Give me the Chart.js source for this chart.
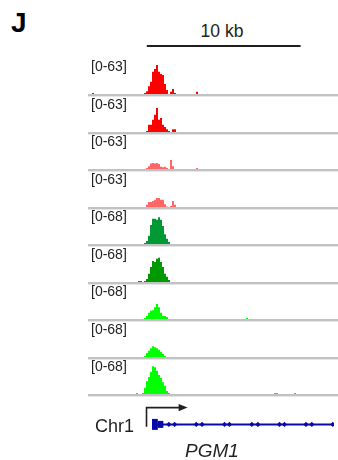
<!DOCTYPE html>
<html>
<head>
<meta charset="utf-8">
<script src="https://cdn.jsdelivr.net/npm/chart.js@4.4.1/dist/chart.umd.min.js"></script>
<style>
  html, body { margin: 0; padding: 0; background: #fff; }
  body { width: 338px; height: 460px; position: relative; overflow: hidden;
         font-family: "Liberation Sans", Arial, sans-serif; color: #231f20; }
  canvas, .txt { position: absolute; }
  .txt { white-space: nowrap; }
  .range { font-size: 14px; line-height: 14px; left: 91px; color: #222; }
</style>
</head>
<body>
<div class="txt" style="left:11px; top:9px; font-size:28px; line-height:28px; font-weight:bold; color:#000;">J</div>
<div class="txt" style="left:172px; top:22.5px; width:100px; text-align:center; font-size:17.5px; line-height:17.5px;">10 kb</div>
<canvas id="ruler" width="250" height="12" style="left:88px; top:40px;"></canvas>
<div id="tracks"></div>
<canvas id="gene" width="250" height="40" style="left:88px; top:398px;"></canvas>
<div class="txt" style="left:95px; top:417px; font-size:18px; line-height:18px;">Chr1</div>
<div class="txt" style="left:185px; top:440.5px; font-size:19px; line-height:19px; font-style:italic;">PGM1</div>

<script>
// Genomic window split into fixed-size bins (kb)
const BIN_KB = 0.13;
const N_BINS = 125;
const WINDOW_KB = BIN_KB * N_BINS;
const binKb = Array.from({ length: N_BINS }, (_, i) => (i * BIN_KB).toFixed(2));

// Per-track data range and colour
const trackMax = [63, 63, 63, 63, 68, 68, 68, 68, 68];
const trackColors = ['#ff0000', '#ff0000', '#ff6666', '#ff6666',
                     '#009933', '#009900', '#00ff00', '#00ff00', '#00ff00'];

// Coverage around the promoter peak: first bin index, then one value per bin
const peakFrom = [28, 29, 29, 29, 28, 25, 28, 28, 27];
const peaks = [
  [2, 5, 14, 22, 40, 45, 52, 40, 36, 34, 18, 7, 0, 4, 9, 2],
  [2, 13, 13, 22, 31, 43, 22, 25, 13, 9, 5, 2, 0, 5, 5],
  [2, 5, 10, 11, 10, 11, 9, 4, 3, 4, 2, 0, 16, 5],
  [4, 9, 9, 11, 13, 16, 16, 13, 13, 5, 1, 0, 2, 11, 4],
  [2, 6, 16, 37, 49, 49, 47, 52, 47, 35, 19, 10, 4],
  [2, 2, 0, 2, 6, 16, 29, 41, 39, 45, 47, 39, 29, 16, 10, 4],
  [2, 6, 12, 16, 17, 23, 29, 23, 12, 6, 6, 4],
  [2, 8, 12, 17, 21, 19, 17, 14, 10, 6, 2],
  [2, 12, 25, 33, 43, 54, 52, 45, 37, 31, 23, 16, 6, 2]
];
// Isolated low-coverage bins: [bin index, value]
const blips = [
  [[2, 2], [54, 4]],
  [],
  [[54, 2]],
  [],
  [],
  [],
  [[79, 2]],
  [],
  [[24, 2], [93, 2], [94, 2], [103, 2]]
];

// Gene model (kb within the window)
const scaleBarKb = [3.82, 13.82];
const tssKb = 3.66;
const tssArrowEndKb = 6.42;
const geneBodyKb = [4.03, WINDOW_KB];
const geneCodingKb = [4.03, 4.42];
const geneUtrKb = [4.42, 4.79];
const strandMarkKb = [5.16, 5.55, 7.0, 7.39, 8.9, 9.23, 10.73, 11.14,
                      12.59, 12.92, 14.37, 14.76, 16.17];

const TRACK_TOP = 59;
const TRACK_PITCH = 37.5;
const DATA_H = 35;
const GENE_BLUE = '#0a0aa8';

function series(i) {
  const s = new Array(N_BINS).fill(null);
  peaks[i].forEach((v, k) => { s[peakFrom[i] + k] = v || null; });
  blips[i].forEach(([b, v]) => { s[b] = v; });
  return s;
}

// Grey divider under each track
const baseline = {
  id: 'baseline',
  afterDraw(chart) {
    const { ctx, chartArea: a } = chart;
    ctx.save();
    ctx.fillStyle = '#c2c2c2';
    ctx.fillRect(a.left, a.bottom, a.right - a.left, 2);
    ctx.fillStyle = '#e6e6e6';
    ctx.fillRect(a.left, a.bottom + 2, a.right - a.left, 1);
    ctx.restore();
  }
};

const common = {
  responsive: false,
  animation: false,
  events: [],
  plugins: { legend: { display: false }, tooltip: { enabled: false } }
};

const holder = document.getElementById('tracks');
trackMax.forEach((max, i) => {
  const top = Math.round(TRACK_TOP + TRACK_PITCH * i);
  const cv = document.createElement('canvas');
  cv.width = 250; cv.height = DATA_H + 3;
  cv.style.left = '88px'; cv.style.top = top + 'px';
  holder.appendChild(cv);

  const lab = document.createElement('div');
  lab.className = 'txt range';
  lab.style.top = (top + DATA_H - 35) + 'px';
  lab.textContent = `[0-${max}]`;
  holder.appendChild(lab);

  new Chart(cv, {
    type: 'bar',
    data: {
      labels: binKb,
      datasets: [{
        data: series(i),
        backgroundColor: trackColors[i],
        borderWidth: 0,
        inflateAmount: 0,
        barPercentage: 1,
        categoryPercentage: 1
      }]
    },
    options: {
      ...common,
      layout: { padding: { left: 0, right: 0, top: 0, bottom: 3 } },
      scales: {
        x: { display: false },
        y: { display: false, min: 0, max: max }
      }
    },
    plugins: [baseline]
  });
});

const kbAxis = { type: 'linear', display: false, min: 0, max: WINDOW_KB };

// 10 kb scale bar
new Chart(document.getElementById('ruler'), {
  type: 'line',
  data: {
    datasets: [{
      data: scaleBarKb.map(x => ({ x, y: 0 })),
      borderColor: '#231f20', borderWidth: 2, pointRadius: 0,
      borderCapStyle: 'butt'
    }]
  },
  options: {
    ...common,
    layout: { padding: 0 },
    scales: { x: kbAxis, y: { display: false, min: -1, max: 1 } }
  }
});

// TSS bent arrow
const tssArrow = {
  id: 'tssArrow',
  afterDatasetsDraw(chart) {
    const { ctx, scales: { x, y } } = chart;
    const x0 = x.getPixelForValue(tssKb);
    const x1 = x.getPixelForValue(tssArrowEndKb);
    const yTop = y.getPixelForValue(21);
    const yBot = y.getPixelForValue(-3);
    ctx.save();
    ctx.strokeStyle = '#231f20';
    ctx.fillStyle = '#231f20';
    ctx.lineWidth = 1.6;
    ctx.beginPath();
    ctx.moveTo(x0, yBot);
    ctx.lineTo(x0, yTop);
    ctx.lineTo(x1 - 6, yTop);
    ctx.stroke();
    ctx.beginPath();
    ctx.moveTo(x1, yTop);
    ctx.lineTo(x1 - 9, yTop - 3.6);
    ctx.lineTo(x1 - 9, yTop + 3.6);
    ctx.closePath();
    ctx.fill();
    ctx.restore();
  }
};

const segment = (pair, w) => ({
  type: 'line',
  data: pair.map(x => ({ x, y: 0 })),
  borderColor: GENE_BLUE, borderWidth: w, pointRadius: 0,
  borderCapStyle: 'butt'
});

new Chart(document.getElementById('gene'), {
  type: 'line',
  data: {
    datasets: [
      segment(geneBodyKb, 2),
      segment(geneCodingKb, 11),
      segment(geneUtrKb, 7),
      {
        type: 'scatter',
        data: strandMarkKb.map(x => ({ x, y: 0 })),
        pointStyle: 'rectRot', pointRadius: 2.6,
        backgroundColor: GENE_BLUE, borderWidth: 0
      }
    ]
  },
  options: {
    ...common,
    layout: { padding: 0 },
    scales: { x: kbAxis, y: { display: false, min: -12, max: 28 } }
  },
  plugins: [tssArrow]
});
</script>
</body>
</html>
